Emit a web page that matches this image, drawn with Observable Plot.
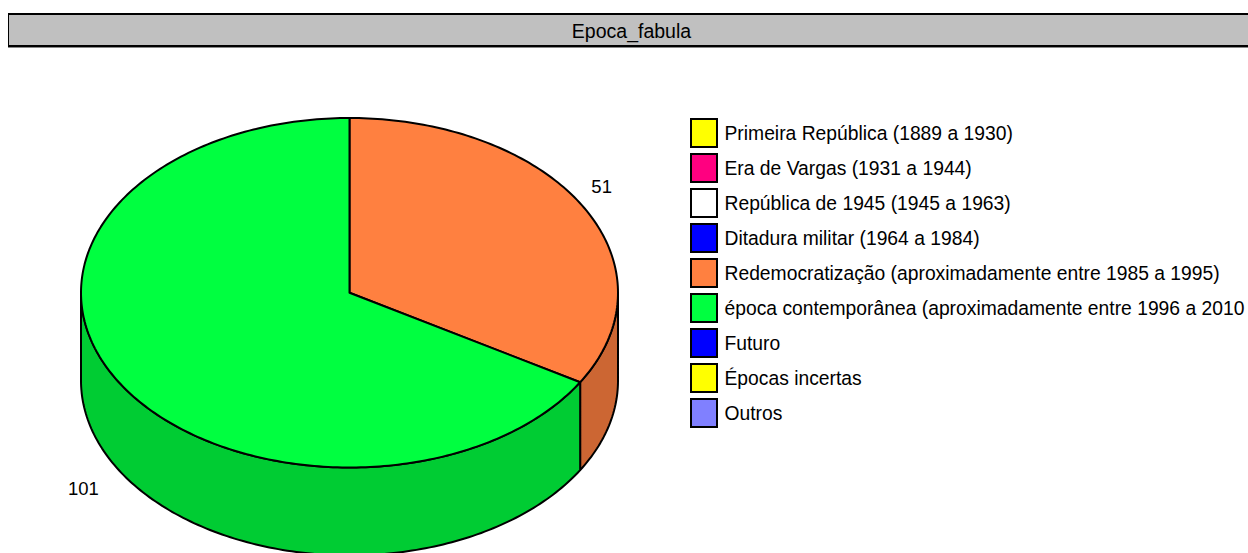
<!DOCTYPE html>
<html>
<head>
<meta charset="utf-8">
<script src="https://cdn.jsdelivr.net/npm/d3@7"></script>
<script src="https://cdn.jsdelivr.net/npm/@observablehq/plot@0.6"></script>
<style>
html,body{margin:0;padding:0;background:#fff;overflow:hidden;width:1248px;height:553px}
#root{position:relative;width:1248px;height:553px;overflow:hidden;font-family:"Liberation Sans",Arial,sans-serif}
#title{position:absolute;left:8px;top:13px;width:1245px;height:30px;background:#c0c0c0;border:solid #000;border-width:2px 0 2px 1px;box-shadow:0 1px 0 #888;
  text-align:center;font-size:19.5px;line-height:33px;color:#000}
#pie{position:absolute;left:0;top:60px}
#legend{position:absolute;left:650px;top:60px}
svg{display:block}
</style>
</head>
<body>
<div id="root">
  <div id="title">Epoca_fabula</div>
  <div id="pie"></div>
  <div id="legend"></div>
</div>
<script>
const titleText = "Epoca_fabula";
const categories = [
  "Primeira República (1889 a 1930)",
  "Era de Vargas (1931 a 1944)",
  "República de 1945 (1945 a 1963)",
  "Ditadura militar (1964 a 1984)",
  "Redemocratização (aproximadamente entre 1985 a 1995)",
  "época contemporânea (aproximadamente entre 1996 a 2010",
  "Futuro",
  "Épocas incertas",
  "Outros"
];
const values = [0, 0, 0, 0, 51, 101, 0, 0, 0];
const colors = ["#ffff00", "#ff0080", "#ffffff", "#0000ff", "#ff8040", "#00ff40", "#0000ff", "#ffff00", "#8080ff"];
const sideColors = ["#cccc00", "#cc0066", "#cccccc", "#0000cc", "#cc6633", "#00cc33", "#0000cc", "#cccc00", "#6666cc"];
const depth = 0.503;

document.getElementById("title").textContent = titleText;

const arcs = d3.pie().sort(null).value(d => d)(values);
const range = (a, b) => {
  const n = Math.max(1, Math.ceil((b - a) / (Math.PI / 180)));
  return d3.range(n + 1).map(i => a + (b - a) * i / n);
};
const tops = [], walls = [], labels = [];
arcs.forEach((arc, i) => {
  if (arc.value === 0) return;
  const pts = [{x: 0, y: 0}, ...range(arc.startAngle, arc.endAngle).map(t => ({x: Math.sin(t), y: Math.cos(t)})), {x: 0, y: 0}];
  pts.forEach(p => tops.push({...p, id: i, fill: colors[i]}));
  const a = Math.max(arc.startAngle, Math.PI / 2), b = Math.min(arc.endAngle, 3 * Math.PI / 2);
  if (b > a) {
    const ts = range(a, b);
    const ring = [
      ...ts.map(t => ({x: Math.sin(t), y: Math.cos(t)})),
      ...ts.slice().reverse().map(t => ({x: Math.sin(t), y: Math.cos(t) - depth}))
    ];
    ring.push(ring[0]);
    ring.forEach(p => walls.push({...p, id: i, fill: sideColors[i]}));
  }
  const mid = (arc.startAngle + arc.endAngle) / 2;
  const lower = Math.cos(mid) < 0;
  labels.push({
    x: Math.sin(mid) * (lower ? 1.14 : 1.08),
    y: Math.cos(mid) * 1.22 - (lower ? depth + 0.015 : 0),
    text: String(arc.value)
  });
});

const pie = Plot.plot({
  width: 650, height: 493, margin: 0,
  x: {domain: [-1, 1], range: [80.5, 617.5], axis: null},
  y: {domain: [1, -1], range: [57.5, 407], axis: null},
  color: {type: "identity"},
  marks: [
    Plot.line(walls, {x: "x", y: "y", z: "id", fill: "fill", stroke: "#000", strokeWidth: 2, strokeLinejoin: "round"}),
    Plot.line(tops, {x: "x", y: "y", z: "id", fill: "fill", stroke: "#000", strokeWidth: 2, strokeLinejoin: "round"}),
    Plot.text(labels, {x: "x", y: "y", text: "text", fontSize: 18.5, fill: "#000", fontFamily: "Liberation Sans"})
  ]
});
document.getElementById("pie").append(pie);

const legendRows = categories.map((c, i) => ({key: i, label: c, fill: colors[i]}));
const legend = Plot.plot({
  width: 598, height: 493, margin: 0,
  x: {type: "band", domain: ["swatch"], range: [41, 67], axis: null, padding: 0, round: false},
  y: {type: "band", domain: d3.range(categories.length), range: [59, 59 + 35 * 8 + 28], paddingInner: 7 / 35, paddingOuter: 0, axis: null, round: false},
  color: {type: "identity"},
  marks: [
    Plot.cell(legendRows, {x: () => "swatch", y: "key", fill: "fill", stroke: "#000", strokeWidth: 2}),
    Plot.text(legendRows, {x: () => "swatch", y: "key", text: "label", textAnchor: "start", lineWidth: Infinity, dx: 20, fontSize: 19.3, fill: "#000", fontFamily: "Liberation Sans"})
  ]
});
document.getElementById("legend").append(legend);
</script>
</body>
</html>
